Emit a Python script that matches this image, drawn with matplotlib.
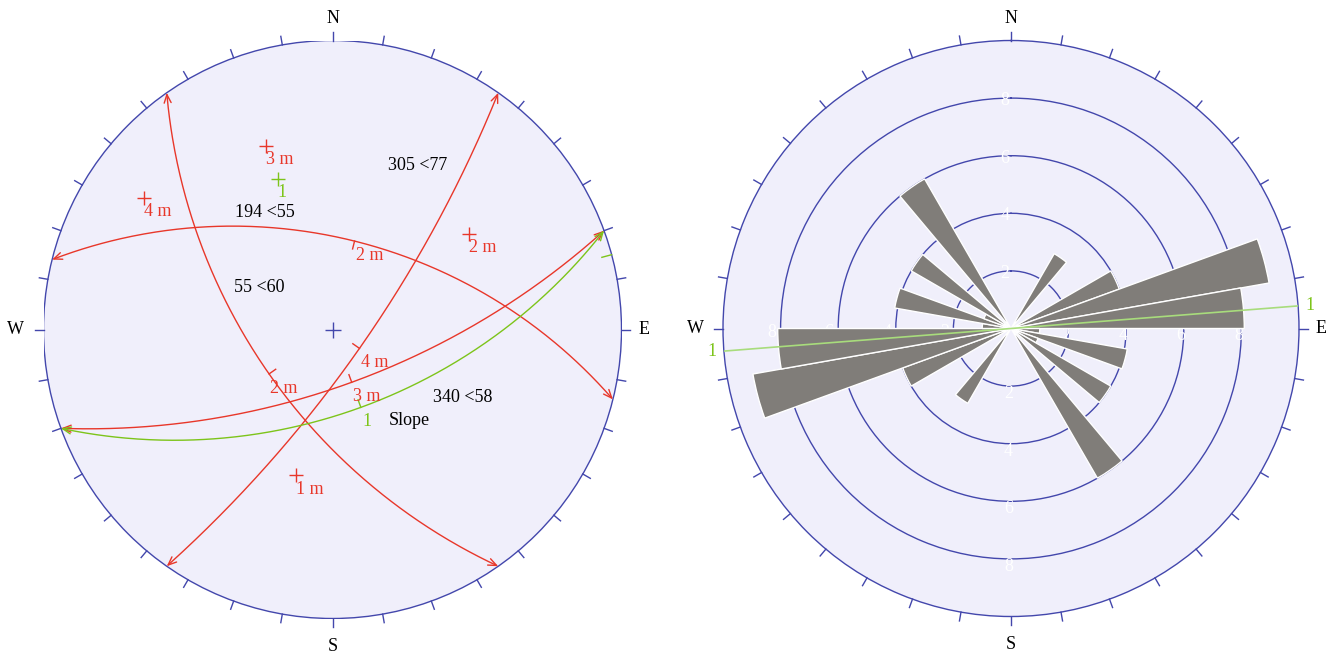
import numpy as np
import matplotlib.pyplot as plt
from matplotlib.patches import Circle, FancyArrowPatch
from matplotlib.path import Path

plt.rcParams['font.family'] = ['Liberation Serif', 'DejaVu Serif']

# mean planes of the joint sets (dip direction, dip)
set_names = ['1 m', '2 m', '3 m', '4 m']
set_dipdir = [194, 55, 340, 305]
set_dip = [55, 60, 68, 77]
arc_names = ['2 m', '2 m', '3 m', '4 m']

# slope face
slope_name = '1'
slope_dipdir = 340
slope_dip = 58
slope_limit_az = 75

# free text written on the stereonet
note_text = ['305 <77', '194 <55', '55 <60', '340 <58', 'Slope']
note_x = [0.295, -0.234, -0.254, 0.452, 0.265]
note_y = [0.567, 0.405, 0.145, -0.237, -0.316]

# rose diagram: 10 degree bins over 0-180, mirrored onto 180-360
rose_start = np.arange(0, 180, 10)
rose_count = [0, 0, 0, 3, 0, 0, 4, 9.1, 8.1, 1, 4.1, 1, 4, 0, 6, 0, 0, 0]
rose_rings = [2, 4, 6, 8]
rose_max = 10
slope_trace = 85.5

compass = ['N', 'E', 'S', 'W']
compass_az = [0, 90, 180, 270]
compass_r = [1.075, 1.077, 1.097, 1.097]
# ring label nudges (points) for the N, E, S, W rows
ring_dx = [-4.3, -2.2, -1.8, -6.5]
ring_dy = [-1.8, -5.4, -5.4, -3.2]

RED = '#E8372A'
GREEN = '#7DC41A'
LIGHT_GREEN = '#A8DC7C'
BLUE = '#4347AC'
FILL = '#F0EFFB'
BAR = '#807D79'
FS = 13

W, H = 1335, 657


def box(cx, cy, r):
    # axes rectangle (figure fraction) for a disk centred at pixel cx, cy
    return [(cx - r) / W, 1 - (cy + r) / H, 2 * r / W, 2 * r / H]


def great_circle(dipdir, dip, n=241):
    # equal angle net, upper hemisphere
    a = np.deg2rad(dipdir + 180)
    d = np.deg2rad(dip)
    strike = np.array([np.sin(a - np.pi / 2), np.cos(a - np.pi / 2), 0.0])
    down = np.array([np.sin(a) * np.cos(d), np.cos(a) * np.cos(d), np.sin(d)])
    t = np.linspace(0, np.pi, n)
    v = np.outer(np.cos(t), strike) + np.outer(np.sin(t), down)
    trend = np.arctan2(v[:, 0], v[:, 1])
    plunge = np.arcsin(np.clip(v[:, 2], -1, 1))
    r = np.tan((np.pi / 2 - plunge) / 2)
    return r * np.sin(trend), r * np.cos(trend)


def pole(dipdir, dip):
    r = np.tan(np.deg2rad(dip) / 2)
    a = np.deg2rad(dipdir)
    return r * np.sin(a), r * np.cos(a)


fig = plt.figure(figsize=(W / 100, H / 100), dpi=100)

# ---- stereonet ----
ax1 = fig.add_axes(box(332.5, 329.5, 289))
ax1.add_patch(Circle((0, 0), 1, facecolor=FILL, edgecolor=BLUE, lw=1.0, zorder=0))
for az in range(0, 360, 10):
    s, c = np.sin(np.deg2rad(az)), np.cos(np.deg2rad(az))
    ax1.plot([s, 1.03 * s], [c, 1.03 * c], color=BLUE, lw=1.0, clip_on=False)
for lab, az, r in zip(compass, compass_az, compass_r):
    ax1.text(r * np.sin(np.deg2rad(az)), r * np.cos(np.deg2rad(az)), lab,
             ha='center', va='center', fontsize=FS)
ax1.plot(0, 0, marker='+', ms=12, mew=1.0, color=BLUE)

arrow = '<->,head_length=0.6,head_width=0.25'


def draw_plane(dipdir, dip, colour, arc_label, pole_label):
    x, y = great_circle(dipdir, dip)
    ax1.add_patch(FancyArrowPatch(path=Path(np.column_stack([x, y])), arrowstyle=arrow,
                                  mutation_scale=10, color=colour, lw=1.0, zorder=2))
    mx, my = x[len(x) // 2], y[len(y) // 2]
    a = np.deg2rad(dipdir)
    ax1.plot([mx, mx + 0.028 * np.sin(a)], [my, my + 0.028 * np.cos(a)], color=colour, lw=1.0)
    ax1.text(mx + 0.004, my - 0.05, arc_label, ha='left', va='center', color=colour, fontsize=FS)
    px, py = pole(dipdir, dip)
    ax1.plot(px, py, marker='+', ms=9.5, mew=1.0, color=colour, zorder=3)
    ax1.text(px, py - 0.047, pole_label, ha='left', va='center', color=colour, fontsize=FS)


for dd, dp, arc_lab, name in zip(set_dipdir, set_dip, arc_names, set_names):
    draw_plane(dd, dp, RED, arc_lab, name)
draw_plane(slope_dipdir, slope_dip, GREEN, slope_name, slope_name)

s, c = np.sin(np.deg2rad(slope_limit_az)), np.cos(np.deg2rad(slope_limit_az))
ax1.plot([0.965 * s, s], [0.965 * c, c], color=GREEN, lw=1.0)

for txt, x, y in zip(note_text, note_x, note_y):
    ax1.text(x, y, txt, ha='center', va='center', fontsize=FS, color='black')

ax1.set_xlim(-1, 1)
ax1.set_ylim(-1, 1)
ax1.axis('off')

# ---- rose diagram ----
ax2 = fig.add_axes(box(1011, 328.5, 288), projection='polar')
ax2.set_theta_zero_location('N')
ax2.set_theta_direction(-1)
ax2.set_facecolor(FILL)
ax2.set_ylim(0, rose_max)
ax2.set_xticks([])
ax2.set_yticks(rose_rings)
ax2.set_yticklabels([])
ax2.tick_params(length=0)
ax2.yaxis.grid(True, color=BLUE, lw=1.0)
ax2.spines['polar'].set_color(BLUE)
ax2.spines['polar'].set_linewidth(1.0)
ax2.set_axisbelow(True)

starts = np.concatenate([rose_start, rose_start + 180])
counts = np.array(rose_count + rose_count, dtype=float)
keep = counts > 0
ax2.bar(np.deg2rad(starts[keep]), counts[keep], width=np.deg2rad(10), align='edge',
        color=BAR, edgecolor='white', lw=1.0, zorder=3)

for ring in rose_rings:
    for az, dx, dy in zip(compass_az, ring_dx, ring_dy):
        ax2.annotate(str(ring), xy=(np.deg2rad(az), ring), xytext=(dx, dy),
                     textcoords='offset points', ha='center', va='center',
                     color='white', fontsize=FS, zorder=2)

for az in range(0, 360, 10):
    th = np.deg2rad(az)
    ax2.plot([th, th], [rose_max, rose_max * 1.031], color=BLUE, lw=1.0, clip_on=False)

for lab, az, r in zip(compass, compass_az, compass_r):
    ax2.text(np.deg2rad(az), r * rose_max, lab, ha='center', va='center', fontsize=FS)

t1 = np.deg2rad(slope_trace)
t2 = t1 + np.pi
ax2.plot([t1, t1, t2, t2], [rose_max, 0, 0, rose_max], color=LIGHT_GREEN, lw=1.2, zorder=4)
ax2.annotate(slope_name, xy=(t1, rose_max), xytext=(5.5, 0), textcoords='offset points',
             ha='left', va='center', color=GREEN, fontsize=FS, annotation_clip=False)
ax2.annotate(slope_name, xy=(t2, rose_max), xytext=(-5.5, 0), textcoords='offset points',
             ha='right', va='center', color=GREEN, fontsize=FS, annotation_clip=False)

fig.savefig('out.png', dpi=100)
